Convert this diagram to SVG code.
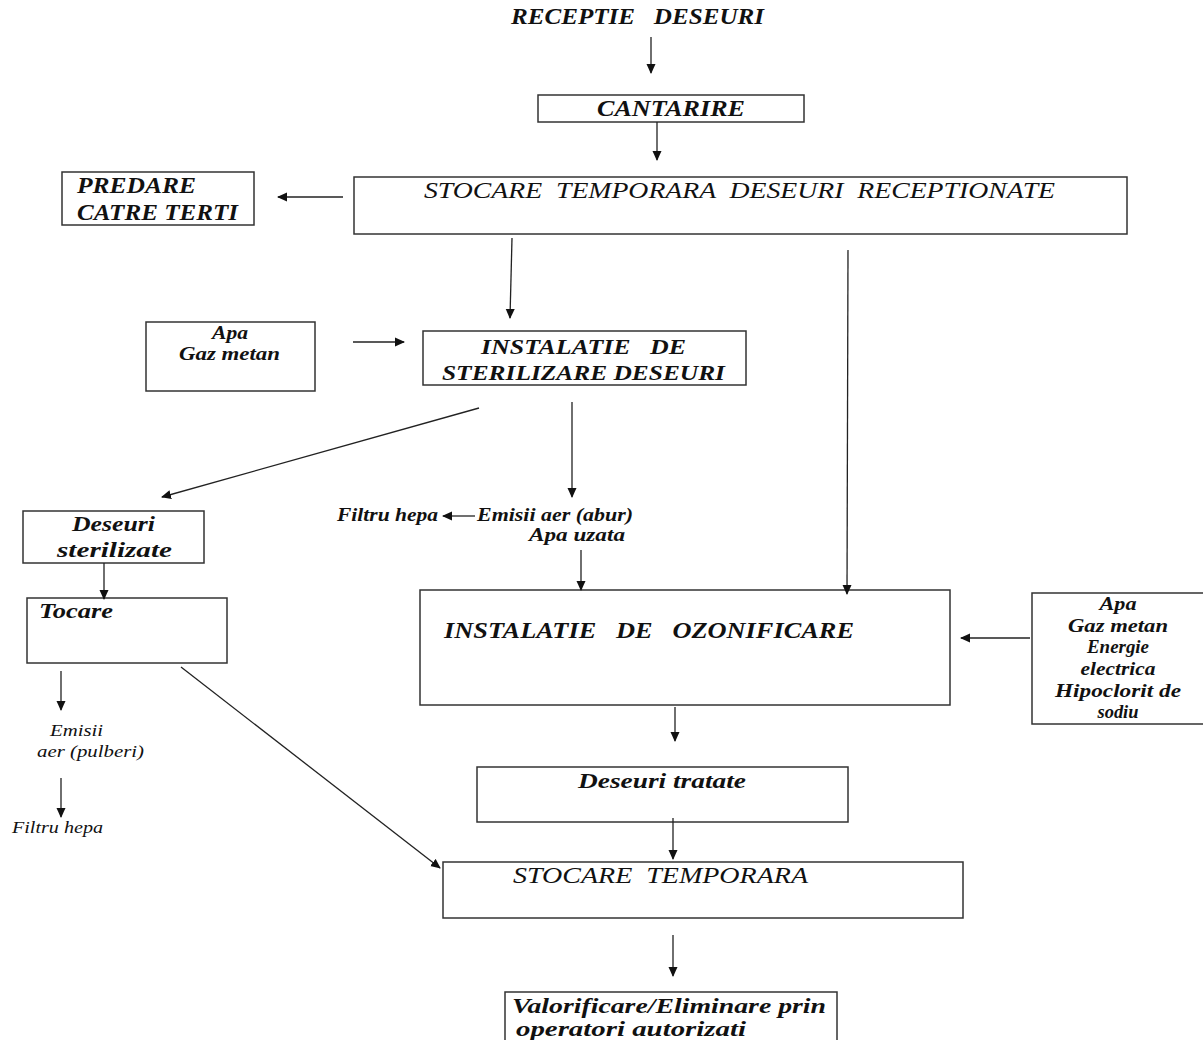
<svg xmlns="http://www.w3.org/2000/svg" width="1203" height="1040" viewBox="0 0 1203 1040">
<style>
.box{fill:#fff;stroke:#333;stroke-width:1.5}
.t{font-family:"Liberation Serif","DejaVu Serif",serif;font-style:italic;fill:#111}
.b{font-weight:bold}
.c{text-anchor:middle}
.ln{stroke:#222;stroke-width:1.3;fill:none;marker-end:url(#ah)}
</style>
<defs>
<marker id="ah" markerWidth="10" markerHeight="10" refX="9" refY="5" orient="auto" markerUnits="userSpaceOnUse">
<path d="M0,0.5 L10,5 L0,9.5 z" fill="#111"/>
</marker>
</defs>
<rect width="1203" height="1040" fill="#fff"/>

<g id="receptie"><text class="t b" x="511" y="24" font-size="23" textLength="253" lengthAdjust="spacingAndGlyphs" xml:space="preserve">RECEPTIE   DESEURI</text></g>

<g id="cantarire"><rect class="box" x="538" y="95" width="266" height="27"/>
<text class="t b" x="597" y="116" font-size="23" textLength="148" lengthAdjust="spacingAndGlyphs">CANTARIRE</text></g>

<g id="stocare-receptionate"><rect class="box" x="354" y="177" width="773" height="57"/>
<text class="t" x="424" y="198" font-size="24" textLength="631" lengthAdjust="spacingAndGlyphs" xml:space="preserve">STOCARE  TEMPORARA  DESEURI  RECEPTIONATE</text></g>

<g id="predare"><rect class="box" x="62" y="172" width="192" height="53"/>
<text class="t b" x="77" y="193" font-size="23" textLength="119" lengthAdjust="spacingAndGlyphs">PREDARE</text>
<text class="t b" x="77" y="220" font-size="23" textLength="161" lengthAdjust="spacingAndGlyphs">CATRE TERTI</text></g>

<g id="utilitati-sterilizare"><rect class="box" x="146" y="322" width="169" height="69"/>
<text class="t b" x="212" y="339" font-size="18" textLength="36" lengthAdjust="spacingAndGlyphs">Apa</text>
<text class="t b" x="179" y="360" font-size="18" textLength="101" lengthAdjust="spacingAndGlyphs">Gaz metan</text></g>

<g id="sterilizare"><rect class="box" x="423" y="331" width="323" height="54"/>
<text class="t b" x="481" y="354" font-size="22" textLength="205" lengthAdjust="spacingAndGlyphs" xml:space="preserve">INSTALATIE   DE</text>
<text class="t b" x="442" y="380" font-size="22" textLength="283" lengthAdjust="spacingAndGlyphs">STERILIZARE DESEURI</text></g>

<g id="deseuri-sterilizate"><rect class="box" x="23" y="511" width="181" height="52"/>
<text class="t b" x="72" y="531" font-size="21" textLength="83" lengthAdjust="spacingAndGlyphs">Deseuri</text>
<text class="t b" x="57" y="557" font-size="21" textLength="115" lengthAdjust="spacingAndGlyphs">sterilizate</text></g>

<g id="tocare"><rect class="box" x="27" y="598" width="200" height="65"/>
<text class="t b" x="39" y="618" font-size="21" textLength="74" lengthAdjust="spacingAndGlyphs">Tocare</text></g>

<g id="emisii-pulberi">
<text class="t" x="50" y="736" font-size="16" textLength="53" lengthAdjust="spacingAndGlyphs">Emisii</text>
<text class="t" x="37" y="757" font-size="16" textLength="107" lengthAdjust="spacingAndGlyphs">aer (pulberi)</text></g>

<g id="filtru-hepa-1"><text class="t" x="12" y="833" font-size="16" textLength="91" lengthAdjust="spacingAndGlyphs">Filtru hepa</text></g>

<g id="filtru-hepa-2"><text class="t b" x="337" y="521" font-size="18" textLength="101" lengthAdjust="spacingAndGlyphs">Filtru hepa</text></g>

<g id="emisii-abur">
<text class="t b" x="477" y="521" font-size="18" textLength="156" lengthAdjust="spacingAndGlyphs">Emisii aer (abur)</text>
<text class="t b" x="529" y="541" font-size="18" textLength="96" lengthAdjust="spacingAndGlyphs">Apa uzata</text></g>

<g id="ozonificare"><rect class="box" x="420" y="590" width="530" height="115"/>
<text class="t b" x="444" y="638" font-size="23" textLength="410" lengthAdjust="spacingAndGlyphs" xml:space="preserve">INSTALATIE   DE   OZONIFICARE</text></g>

<g id="utilitati-ozonificare"><rect class="box" x="1032" y="593" width="175" height="131"/>
<text class="t b c" x="1118" y="610" font-size="18" textLength="37" lengthAdjust="spacingAndGlyphs">Apa</text>
<text class="t b c" x="1118" y="632" font-size="18" textLength="100" lengthAdjust="spacingAndGlyphs">Gaz metan</text>
<text class="t b c" x="1118" y="653" font-size="18" textLength="62" lengthAdjust="spacingAndGlyphs">Energie</text>
<text class="t b c" x="1118" y="675" font-size="18" textLength="75" lengthAdjust="spacingAndGlyphs">electrica</text>
<text class="t b c" x="1118" y="697" font-size="18" textLength="126" lengthAdjust="spacingAndGlyphs">Hipoclorit de</text>
<text class="t b c" x="1118" y="718" font-size="18" textLength="41" lengthAdjust="spacingAndGlyphs">sodiu</text></g>

<g id="deseuri-tratate"><rect class="box" x="477" y="767" width="371" height="55"/>
<text class="t b" x="578" y="788" font-size="21" textLength="168" lengthAdjust="spacingAndGlyphs">Deseuri tratate</text></g>

<g id="stocare-temporara"><rect class="box" x="443" y="862" width="520" height="56"/>
<text class="t" x="513" y="883" font-size="24" textLength="295" lengthAdjust="spacingAndGlyphs" xml:space="preserve">STOCARE  TEMPORARA</text></g>

<g id="valorificare"><rect class="box" x="505" y="992" width="332" height="60"/>
<text class="t b" x="512" y="1013" font-size="21" textLength="314" lengthAdjust="spacingAndGlyphs">Valorificare/Eliminare prin</text>
<text class="t b" x="516" y="1036" font-size="21" textLength="230" lengthAdjust="spacingAndGlyphs">operatori autorizati</text></g>

<g id="connectors">
<line class="ln" x1="651" y1="37" x2="651" y2="73"/>
<line class="ln" x1="657" y1="122" x2="657" y2="160"/>
<line class="ln" x1="343" y1="197" x2="278" y2="197"/>
<line class="ln" x1="512" y1="238" x2="510" y2="318"/>
<line class="ln" x1="848" y1="250" x2="847" y2="594"/>
<line class="ln" x1="353" y1="342" x2="404" y2="342"/>
<line class="ln" x1="479" y1="408" x2="162" y2="497"/>
<line class="ln" x1="572" y1="402" x2="572" y2="497"/>
<line class="ln" x1="104" y1="563" x2="104" y2="599"/>
<line class="ln" x1="61" y1="671" x2="61" y2="710"/>
<line class="ln" x1="61" y1="778" x2="61" y2="817"/>
<line class="ln" x1="181" y1="667" x2="440" y2="868"/>
<line class="ln" x1="475" y1="516" x2="443" y2="516"/>
<line class="ln" x1="581" y1="550" x2="581" y2="590"/>
<line class="ln" x1="1030" y1="638" x2="961" y2="638"/>
<line class="ln" x1="675" y1="707" x2="675" y2="741"/>
<line class="ln" x1="673" y1="818" x2="673" y2="859"/>
<line class="ln" x1="673" y1="935" x2="673" y2="976"/>
</g>
</svg>
